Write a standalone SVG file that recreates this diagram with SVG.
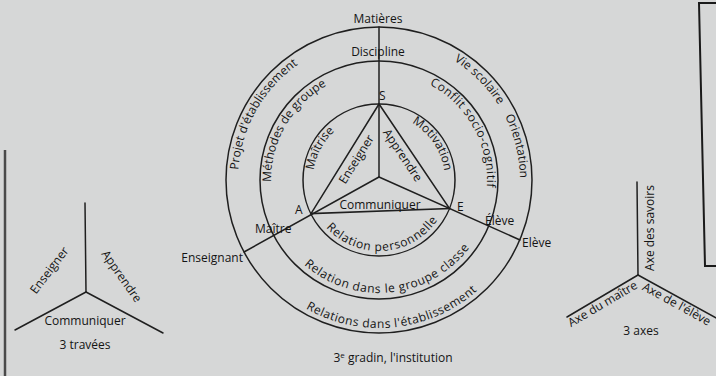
<svg xmlns="http://www.w3.org/2000/svg" xmlns:xlink="http://www.w3.org/1999/xlink" width="716" height="376" viewBox="0 0 716 376">
<style>
.ln{fill:none;stroke:#1f1f1f;stroke-width:1.5;stroke-linecap:round}
.rg{fill:none;stroke:#1f1f1f;stroke-width:1.5}
.t{font-family:"Open Sans","Liberation Sans",sans-serif;font-size:12px;fill:#141414}
.m{text-anchor:middle}
.c{text-anchor:middle;dominant-baseline:central}
.ls{letter-spacing:0.5px}
</style>
<defs>
<path id="pProjet" d="M257.5,251.6 A141,141 0 0 1 377.8,39.0"/>
<path id="pVie" d="M391.3,39.5 A141,141 0 0 1 519.5,167.7"/>
<path id="pOrient" d="M462.3,66.2 A141,141 0 0 1 505.5,242.3"/>
<path id="pMeth" d="M285.5,234 A108,108 0 0 1 379,72"/>
<path id="pConf" d="M380.9,72 A108,108 0 0 1 471.6,235.6"/>
<path id="pMait" d="M317.8,204.7 A66,66 0 0 1 365.3,115.4"/>
<path id="pMotiv" d="M385.9,114.4 A66,66 0 0 1 442.4,198.2"/>
<path id="pRelP" d="M314.1,208.9 A71,71 0 0 0 447.2,199.6"/>
<path id="pRelG" d="M277.4,229.5 A113,113 0 0 0 488.6,207.3"/>
<path id="pRelE" d="M246,244.9 A148,148 0 0 0 522.6,215.8"/>
</defs>
<rect width="716" height="376" fill="#d6d7d7"/>
<line x1="5" y1="150" x2="5" y2="376" stroke="#4a4a4a" stroke-width="2.5"/>
<path d="M716,3 H699 L705,266 H716" fill="none" stroke="#1a1a1a" stroke-width="2"/>

<g id="main">
  <g id="rings">
    <circle class="rg" cx="379" cy="180" r="153"/>
    <circle class="rg" cx="379" cy="180" r="119"/>
    <circle class="rg" cx="379" cy="180" r="76"/>
  </g>
  <g id="connectors">
    <line class="ln" x1="379" y1="27" x2="379" y2="177"/>
    <line class="ln" x1="379" y1="177" x2="244" y2="252"/>
    <line class="ln" x1="379" y1="177" x2="520" y2="240"/>
    <path class="ln" d="M379,104 L311,213.6 L449.5,208.5 Z"/>
  </g>
  <g id="vertices">
    <text class="t" x="379" y="100">S</text>
    <text class="t" x="295" y="214">A</text>
    <text class="t" x="457" y="211">E</text>
  </g>
  <g id="axis-labels">
    <text class="t m" x="378" y="23">Matières</text>
    <text class="t m" x="378" y="56" font-size="13">Discipline</text>
    <text class="t" x="255" y="233">Maître</text>
    <text class="t" x="243" y="262" text-anchor="end">Enseignant</text>
    <text class="t" x="485" y="225">Élève</text>
    <text class="t" x="522" y="247">Elève</text>
  </g>
  <g id="triangle-labels">
    <text class="t c" transform="translate(356,159) rotate(-58)">Enseigner</text>
    <text class="t c" transform="translate(403,155) rotate(56)">Apprendre</text>
    <text class="t m" x="380" y="209">Communiquer</text>
  </g>
  <g id="ring-labels">
    <text class="t"><textPath xlink:href="#pProjet" href="#pProjet" startOffset="50%" text-anchor="middle">Projet d'établissement</textPath></text>
    <text class="t"><textPath xlink:href="#pVie" href="#pVie" startOffset="50%" text-anchor="middle">Vie scolaire</textPath></text>
    <text class="t"><textPath xlink:href="#pOrient" href="#pOrient" startOffset="50%" text-anchor="middle">Orientation</textPath></text>
    <text class="t"><textPath xlink:href="#pMeth" href="#pMeth" startOffset="50%" text-anchor="middle">Méthodes de groupe</textPath></text>
    <text class="t ls"><textPath xlink:href="#pConf" href="#pConf" startOffset="50%" text-anchor="middle">Conflit socio-cognitif</textPath></text>
    <text class="t"><textPath xlink:href="#pMait" href="#pMait" startOffset="50%" text-anchor="middle">Maîtrise</textPath></text>
    <text class="t"><textPath xlink:href="#pMotiv" href="#pMotiv" startOffset="50%" text-anchor="middle">Motivation</textPath></text>
    <text class="t" letter-spacing="0.7"><textPath xlink:href="#pRelP" href="#pRelP" startOffset="50%" text-anchor="middle">Relation personnelle</textPath></text>
    <text class="t" letter-spacing="0.6"><textPath xlink:href="#pRelG" href="#pRelG" startOffset="50%" text-anchor="middle">Relation dans le groupe classe</textPath></text>
    <text class="t ls"><textPath xlink:href="#pRelE" href="#pRelE" startOffset="50%" text-anchor="middle">Relations dans l'établissement</textPath></text>
  </g>
  <g id="caption-main">
    <text class="t m" x="393" y="362">3<tspan font-size="8" dy="-4">e</tspan><tspan dy="4"> gradin, l'institution</tspan></text>
  </g>
</g>

<g id="travees">
  <g id="travees-lines">
    <line class="ln" x1="85" y1="203" x2="86" y2="292"/>
    <line class="ln" x1="86" y1="292" x2="15" y2="330"/>
    <line class="ln" x1="86" y1="292" x2="163" y2="333"/>
  </g>
  <text class="t c" transform="translate(49,270) rotate(-53)">Enseigner</text>
  <text class="t c" transform="translate(122,276) rotate(55)">Apprendre</text>
  <text class="t m" x="85" y="325">Communiquer</text>
  <text class="t m" x="85" y="349">3 travées</text>
</g>

<g id="axes">
  <g id="axes-lines">
    <line class="ln" x1="637" y1="182" x2="638" y2="275"/>
    <line class="ln" x1="638" y1="275" x2="567" y2="317"/>
    <line class="ln" x1="638" y1="275" x2="730" y2="325.5"/>
  </g>
  <text class="t c" transform="translate(649,228) rotate(-90)">Axe des savoirs</text>
  <text class="t" font-size="11" transform="translate(638,275) rotate(-30.5)" x="-6" y="11" text-anchor="end">Axe du maître</text>
  <text class="t" font-size="11" transform="translate(638,275) rotate(28.7)" x="10" y="11">Axe de l'élève</text>
  <text class="t m" x="641" y="335">3 axes</text>
</g>
</svg>
